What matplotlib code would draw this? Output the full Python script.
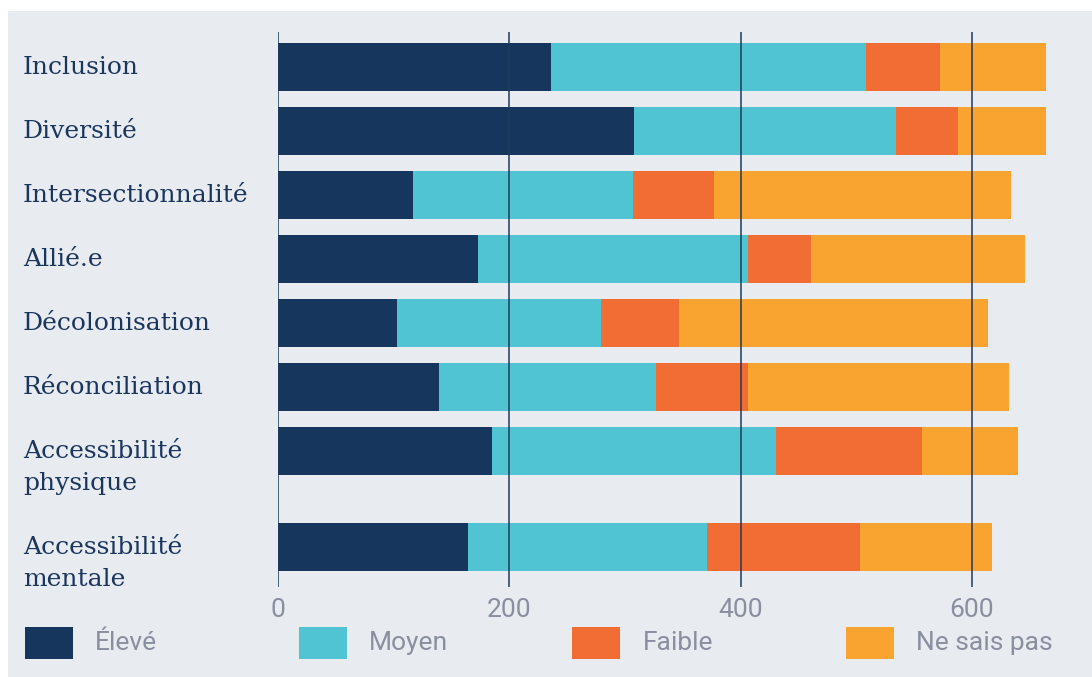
import matplotlib.pyplot as plt
from matplotlib.patches import Rectangle
from matplotlib.transforms import blended_transform_factory

categories = ['Inclusion', 'Diversité', 'Intersectionnalité', 'Allié.e',
              'Décolonisation', 'Réconciliation', 'Accessibilité\nphysique',
              'Accessibilité\nmentale']
eleve = [236, 308, 117, 173, 103, 139, 185, 164]
moyen = [272, 226, 190, 233, 176, 188, 246, 207]
faible = [64, 54, 70, 55, 68, 79, 126, 132]
nsp = [92, 76, 257, 185, 267, 226, 83, 114]
series_names = ['Élevé', 'Moyen', 'Faible', 'Ne sais pas']
xticks = [0, 200, 400, 600]

colors = ['#17365e', '#50c4d3', '#f26d33', '#f9a330']
bg = '#e8ebf0'
navy = '#1b365d'
grey = '#8a8fa0'

W, H = 1092, 677
fig = plt.figure(figsize=(W / 100, H / 100), dpi=100, facecolor='white')
fig.patches.append(Rectangle((8 / W, 0), 1, (H - 11) / H, transform=fig.transFigure,
                             facecolor=bg, edgecolor='none', zorder=-10))

ax = fig.add_axes([278 / W, 1 - 587 / H, (1070 - 278) / W, (587 - 32) / H])
ax.set_facecolor('none')

# row positions: last row sits lower because of the two-line labels
ypos = [0, 1, 2, 3, 4, 5, 6, 7.5]
left = [0] * len(categories)
for vals, c in zip([eleve, moyen, faible, nsp], colors):
    ax.barh(ypos, vals, left=left, height=0.75, color=c, zorder=2)
    left = [l + v for l, v in zip(left, vals)]

ax.set_ylim(7.5 + 0.625, -0.547)
ax.set_xlim(0, (1070 - 278) / 1.1565)
for x in xticks:
    ax.axvline(x, color='#1f3a5c', lw=1.1, zorder=3)

ax.set_xticks(xticks)
ax.set_xticklabels([str(x) for x in xticks], fontfamily='Roboto', fontsize=19, color=grey)
ax.tick_params(axis='x', length=0, pad=8)
ax.set_yticks([])
for s in ax.spines.values():
    s.set_visible(False)

# category labels, first line centred on the bar
lab_tr = blended_transform_factory(fig.transFigure, ax.transData)
for y, lab in zip(ypos, categories):
    for k, line in enumerate(lab.split('\n')):
        ax.text(23 / W, y + 0.5 * k, line, transform=lab_tr, fontfamily='DejaVu Serif',
                fontsize=18, color=navy, va='center', ha='left')

# legend
for i, (name, c) in enumerate(zip(series_names, colors)):
    x0 = 25 + i * 273.7
    fig.patches.append(Rectangle((x0 / W, 1 - 659 / H), 48 / W, 32 / H,
                                 transform=fig.transFigure, facecolor=c, edgecolor='none'))
    fig.text((x0 + 70) / W, 1 - 643 / H, name, fontfamily='Roboto', fontsize=19,
             color=grey, va='center', ha='left')

fig.savefig('out.png', dpi=100, facecolor='white')
